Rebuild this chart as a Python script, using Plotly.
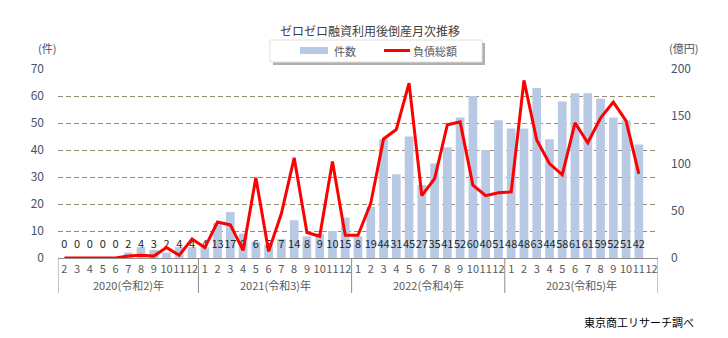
import plotly.graph_objects as go

# Monthly series, Feb 2020 - Dec 2023
year_labels = ["2020(令和2)年", "2021(令和3)年", "2022(令和4)年", "2023(令和5)年"]
year_lengths = [11, 12, 12, 12]
months = [str(m) for m in range(2, 13)] + [str(m) for m in range(1, 13)] * 3

# 件数 (bankruptcies per month)
counts = [0, 0, 0, 0, 0, 2, 4, 3, 2, 4, 4,
          4, 13, 17, 9, 6, 5, 7, 14, 8, 9, 10, 15,
          8, 19, 44, 31, 45, 27, 35, 41, 52, 60, 40, 51,
          48, 48, 63, 44, 58, 61, 61, 59, 52, 51, 42, None]

# 負債総額 (億円)
debt = [0, 0, 0, 0, 0, 2, 3, 2, 11, 3, 20,
        11, 38, 35, 8, 85, 7, 47, 106, 27, 23, 102, 24,
        24, 58, 126, 136, 185, 66, 84, 141, 144, 77, 66, 69,
        70, 188, 125, 100, 88, 143, 122, 148, 165, 145, 89, None]

FONT = "Noto Sans CJK JP"
AXIS_BLUE = "#44546A"
BAR_BLUE = "#B7C9E5"
DIV_GRAY = "#8C8C8C"

L, R, T, B = 58, 70, 69, 80
W, H = 728, 338
PW, PH = W - L - R, H - T - B

xs = list(range(len(months)))


def px(x):
    return (x - L) / PW


def py(y):
    return (T + PH - y) / PH


fig = go.Figure()

fig.add_trace(go.Bar(
    x=xs, y=counts, name="件数",
    marker=dict(color=BAR_BLUE, line=dict(width=0)),
    yaxis="y", showlegend=False,
))

# count labels sitting at the foot of each bar
label_y = [4.8 if c is not None else None for c in counts]
label_txt = [str(c) if c is not None else "" for c in counts]
fig.add_trace(go.Scatter(
    x=xs, y=label_y, mode="text", text=label_txt,
    textfont=dict(family=FONT, size=11, color="#262626"),
    textposition="middle center", yaxis="y", showlegend=False, hoverinfo="skip",
))

fig.add_trace(go.Scatter(
    x=xs, y=debt, name="負債総額", mode="lines",
    line=dict(color="#FF0000", width=3), yaxis="y2", showlegend=False,
))

fig.update_layout(
    width=W, height=H,
    margin=dict(l=L, r=R, t=T, b=B, pad=0),
    paper_bgcolor="white", plot_bgcolor="white",
    font=dict(family=FONT, size=11, color="#595959"),
    bargap=0.32,
    xaxis=dict(
        range=[-0.5, len(months) - 0.5],
        tickmode="array", tickvals=xs, ticktext=months, tickangle=0,
        showgrid=False, showline=True, linecolor=DIV_GRAY, linewidth=1,
        zeroline=False, ticks="", ticklabelstandoff=1,
        tickfont=dict(family=FONT, size=11, color="#595959"),
    ),
    yaxis=dict(
        range=[0, 70], dtick=10, showgrid=True,
        gridcolor="#948B70", griddash="5px,3px", gridwidth=1,
        zeroline=False, ticks="", ticklabelstandoff=13,
        tickfont=dict(family=FONT, size=12, color=AXIS_BLUE),
    ),
    yaxis2=dict(
        range=[0, 200], dtick=50, overlaying="y", side="right",
        showgrid=False, zeroline=False, ticks="", ticklabelstandoff=12,
        tickfont=dict(family=FONT, size=12, color=AXIS_BLUE),
    ),
    showlegend=False,
)

# year group dividers and labels under the month ticks
start = 0
bounds = [start]
for n in year_lengths:
    start += n
    bounds.append(start)
for b in bounds:
    fig.add_shape(type="line", xref="x", yref="paper",
                  x0=b - 0.5, x1=b - 0.5, y0=0, y1=py(293),
                  line=dict(color=DIV_GRAY, width=1))
for i, name in enumerate(year_labels):
    fig.add_annotation(text=name, xref="x", yref="paper",
                       x=(bounds[i] + bounds[i + 1] - 1) / 2, y=py(285),
                       showarrow=False, yanchor="middle",
                       font=dict(family=FONT, size=11, color="#595959"))

# legend box with drop shadow
fig.add_shape(type="rect", xref="paper", yref="paper",
              x0=px(273), x1=px(485), y0=py(65), y1=py(43),
              fillcolor="#B0B0B0", line=dict(width=0), layer="above")
fig.add_shape(type="rect", xref="paper", yref="paper",
              x0=px(270), x1=px(482), y0=py(62), y1=py(40),
              fillcolor="white", line=dict(color="#E0E0E0", width=1), layer="above")
fig.add_shape(type="rect", xref="paper", yref="paper",
              x0=px(300), x1=px(328), y0=py(54), y1=py(47),
              fillcolor=BAR_BLUE, line=dict(width=0), layer="above")
fig.add_shape(type="line", xref="paper", yref="paper",
              x0=px(384), x1=px(410), y0=py(50.5), y1=py(50.5),
              line=dict(color="#FF0000", width=3), layer="above")

annotations = [
    dict(text="ゼロゼロ融資利用後倒産月次推移", x=px(370), y=py(30),
         font=dict(size=12, color="#404040"), xanchor="center"),
    dict(text="件数", x=px(332), y=py(50.5), font=dict(size=11, color="#595959"), xanchor="left"),
    dict(text="負債総額", x=px(411), y=py(50.5), font=dict(size=11, color="#595959"), xanchor="left"),
    dict(text="(件)", x=px(47), y=py(48), font=dict(size=11, color=AXIS_BLUE), xanchor="center"),
    dict(text="(億円)", x=px(683), y=py(48), font=dict(size=11, color=AXIS_BLUE), xanchor="center"),
    dict(text="東京商工リサーチ調べ", x=px(696), y=py(322), font=dict(size=11, color="#000000"), xanchor="right"),
]
for a in annotations:
    a.update(xref="paper", yref="paper", yanchor="middle", showarrow=False)
    a["font"]["family"] = FONT
    fig.add_annotation(**a)

fig.write_html("out.html")
